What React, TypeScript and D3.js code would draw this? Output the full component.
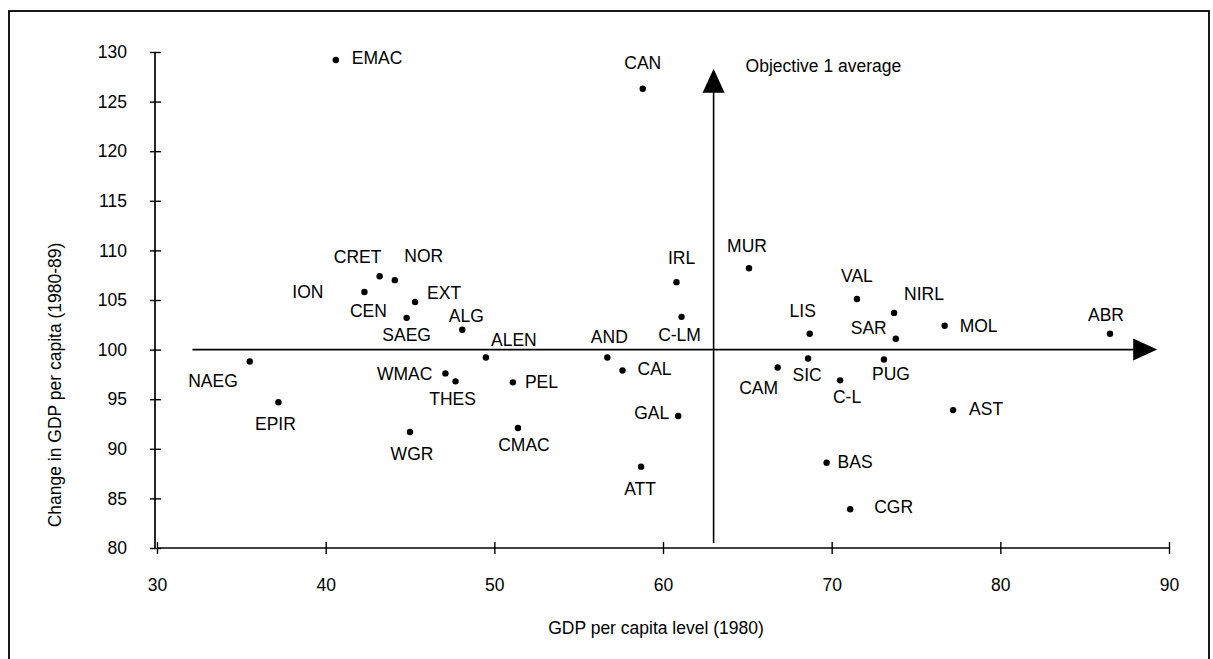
import * as d3 from "d3";
import { useEffect, useRef } from "react";

// Objective 1 regions: GDP per capita level (1980) vs change in GDP per capita (1980-89)
const regions = [
  "EMAC", "CAN", "ION", "CRET", "NOR", "CEN", "EXT", "SAEG", "ALG", "ALEN",
  "AND", "C-LM", "IRL", "MUR", "VAL", "NIRL", "LIS", "SAR", "MOL", "ABR",
  "SIC", "CAM", "PUG", "C-L", "AST", "BAS", "CGR", "NAEG", "EPIR", "WMAC",
  "THES", "PEL", "CAL", "GAL", "WGR", "CMAC", "ATT",
];
const gdpLevel = [
  40.6, 58.8, 42.3, 43.2, 44.1, 42.3, 45.3, 44.8, 48.1, 49.5,
  56.7, 61.1, 60.8, 65.1, 71.5, 73.7, 68.7, 73.8, 76.7, 86.5,
  68.6, 66.8, 73.1, 70.5, 77.2, 69.7, 71.1, 35.5, 37.2, 47.1,
  47.7, 51.1, 57.6, 60.9, 45.0, 51.4, 58.7,
];
const gdpChange = [
  129.2, 126.3, 105.8, 107.4, 107.0, 105.8, 104.8, 103.2, 102.0, 99.2,
  99.2, 103.3, 106.8, 108.2, 105.1, 103.7, 101.6, 101.1, 102.4, 101.6,
  99.1, 98.2, 99.0, 96.9, 93.9, 88.6, 83.9, 98.8, 94.7, 97.6,
  96.8, 96.7, 97.9, 93.3, 91.7, 92.1, 88.2,
];
// ION and CEN share one printed dot
const hiddenDots = ["ION"];

const xTicks = [30, 40, 50, 60, 70, 80, 90];
const yTicks = [80, 85, 90, 95, 100, 105, 110, 115, 120, 125, 130];

const objectiveAverage = 63;
const baseChange = 100;

// label placement relative to the dot: [dx, dy, anchor]
const labelPlacement: [number, number, string][] = [
  [16, -2, "start"], [0, -26, "middle"], [-41, 0, "end"], [-22, -19, "middle"],
  [29, -24, "middle"], [4, 19, "middle"], [12, -9, "start"], [0, 17, "middle"],
  [4, -14, "middle"], [28, -18, "middle"], [2, -21, "middle"], [-2, 18, "middle"],
  [5, -24, "middle"], [-2, -22, "middle"], [0, -23, "middle"], [10, -19, "start"],
  [-7, -23, "middle"], [-9, -11, "end"], [15, 0, "start"], [-4, -19, "middle"],
  [-1, 16, "middle"], [-19, 21, "middle"], [7, 14, "middle"], [7, 17, "middle"],
  [16, -1, "start"], [11, -1, "start"], [24, -2, "start"], [-12, 19, "end"],
  [-3, 22, "middle"], [-13, 1, "end"], [-3, 18, "middle"], [12, 0, "start"],
  [15, -1, "start"], [-9, -3, "end"], [2, 22, "middle"], [6, 17, "middle"],
  [-1, 22, "middle"],
];

const width = 1213;
const height = 659;
const font = "'Liberation Sans', Arial, Helvetica, sans-serif";
const fontSize = 17.5;

function App() {
  const xAxisRef = useRef<SVGGElement>(null);
  const yAxisRef = useRef<SVGGElement>(null);

  const xScale = d3.scaleLinear().domain([30, 90]).range([157, 1169]);
  const yScale = d3.scaleLinear().domain([80, 130]).range([548, 52]);

  useEffect(() => {
    // x axis with ticks crossing the line
    const xAxis = d3.select(xAxisRef.current);
    xAxis.selectAll("*").remove();
    xAxis.call(
      d3.axisBottom(xScale).tickValues(xTicks).tickSize(6).tickPadding(30).tickFormat(d3.format("d"))
    );
    xAxis.select(".domain").attr("d", `M${xScale(30)},0H${xScale(90)}`).attr("stroke-width", 1.7);
    xAxis.selectAll(".tick line").attr("y1", -6).attr("y2", 6).attr("stroke-width", 1.4);
    xAxis
      .selectAll(".tick text")
      .attr("font-family", font)
      .attr("font-size", fontSize)
      .attr("fill", "#000")
      .attr("dy", "0.35em")
      .attr("y", 37);

    // y axis
    const yAxis = d3.select(yAxisRef.current);
    yAxis.selectAll("*").remove();
    yAxis.call(d3.axisLeft(yScale).tickValues(yTicks).tickSize(5).tickPadding(23));
    yAxis.select(".domain").attr("d", `M0,${yScale(130)}V${yScale(80)}`).attr("stroke-width", 1.7);
    yAxis.selectAll(".tick line").attr("x1", -5).attr("x2", 6).attr("stroke-width", 1.4);
    yAxis
      .selectAll(".tick text")
      .attr("font-family", font)
      .attr("font-size", fontSize)
      .attr("fill", "#000");
  }, []);

  // arrows
  const hx1 = xScale(32.1);
  const hx2 = xScale(89.3);
  const hy = yScale(baseChange);
  const vx = xScale(objectiveAverage);
  const vy1 = yScale(80.5);
  const vy2 = yScale(128.3);
  const head = 24;
  const half = 11;

  return (
    <svg
      width={width}
      height={height}
      style={{ position: "absolute", left: 0, top: 0, background: "#fff" }}
    >
      <rect x={9} y={11} width={1200} height={670} fill="none" stroke="#000" strokeWidth={1.8} />

      <g ref={yAxisRef} transform={`translate(${xScale(30) - 2},0)`} />
      <g ref={xAxisRef} transform={`translate(0,${yScale(80)})`} />

      {/* horizontal arrow at 100 */}
      <line x1={hx1} y1={hy} x2={hx2 - head + 2} y2={hy} stroke="#000" strokeWidth={1.6} />
      <path d={`M${hx2},${hy}L${hx2 - head},${hy - half}L${hx2 - head},${hy + half}Z`} fill="#000" />

      {/* vertical arrow at objective 1 average */}
      <line x1={vx} y1={vy1} x2={vx} y2={vy2 + head - 2} stroke="#000" strokeWidth={1.6} />
      <path d={`M${vx},${vy2}L${vx - half},${vy2 + head}L${vx + half},${vy2 + head}Z`} fill="#000" />
      <text
        x={vx + 32}
        y={vy2 - 3}
        fontFamily={font}
        fontSize={fontSize}
        fill="#000"
        dominantBaseline="central"
      >
        Objective 1 average
      </text>

      {regions.map((r, i) => {
        const cx = xScale(gdpLevel[i]);
        const cy = yScale(gdpChange[i]);
        const [dx, dy, anchor] = labelPlacement[i];
        return (
          <g key={r}>
            {!hiddenDots.includes(r) && <circle cx={cx} cy={cy} r={3.2} fill="#000" />}
            <text
              x={cx + dx}
              y={cy + dy}
              textAnchor={anchor}
              dominantBaseline="central"
              fontFamily={font}
              fontSize={fontSize}
              fill="#000"
            >
              {r}
            </text>
          </g>
        );
      })}

      <text
        x={656}
        y={628}
        textAnchor="middle"
        dominantBaseline="central"
        fontFamily={font}
        fontSize={fontSize}
        fill="#000"
      >
        GDP per capita level (1980)
      </text>
      <text
        transform={`translate(55,385) rotate(-90)`}
        textAnchor="middle"
        dominantBaseline="central"
        fontFamily={font}
        fontSize={fontSize}
        fill="#000"
      >
        Change in GDP per capita (1980-89)
      </text>
    </svg>
  );
}

export default App;
